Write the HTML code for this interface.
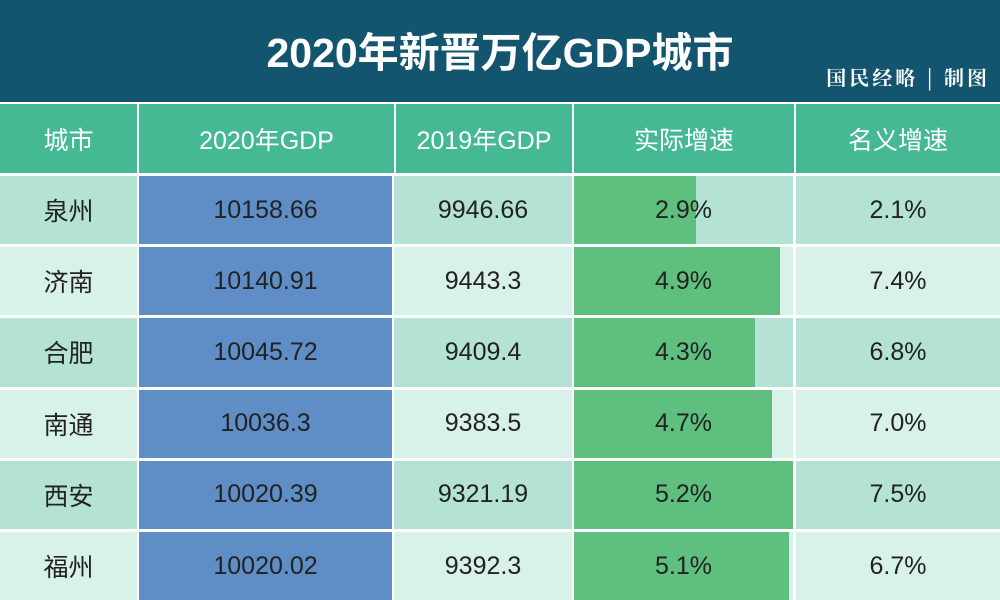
<!DOCTYPE html>
<html><head><meta charset="utf-8"><style>
body{margin:0;width:1000px;height:599px;overflow:hidden;background:#fff;font-family:"Liberation Sans","Noto Sans CJK SC",sans-serif}
#title{position:absolute;left:0;top:0;width:1000px;height:102px;background:#13546e}
#title h1{position:absolute;left:0;width:1000px;top:28px;margin:0;text-align:center;color:#fff;font-size:41px;font-weight:bold;line-height:50px}
#credit{position:absolute;right:10px;top:62px;color:#fff;font-family:"Noto Serif CJK SC",serif;font-size:20px;font-weight:bold;letter-spacing:3px}
.cell{position:absolute;display:flex;align-items:center;justify-content:center;font-size:25px;color:#222}
.hd{color:#fff;background:#45b994}
</style></head><body>
<div id="title"><h1>2020年新晋万亿GDP城市</h1><div id="credit">国民经略 | 制图</div></div>
<div id="tbl"></div>
<script>
const cities=["泉州","济南","合肥","南通","西安","福州"];
const gdp2020=["10158.66","10140.91","10045.72","10036.3","10020.39","10020.02"];
const gdp2019=["9946.66","9443.3","9409.4","9383.5","9321.19","9392.3"];
const realGrowth=[2.9,4.9,4.3,4.7,5.2,5.1];
const nominalGrowth=["2.1%","7.4%","6.8%","7.0%","7.5%","6.7%"];
const headers=["城市","2020年GDP","2019年GDP","实际增速","名义增速"];
const colX=[0,137,394,572,794,1000];
const tbl=document.getElementById('tbl');
function mk(x,y,w,h,txt,bg,cls){const d=document.createElement('div');d.className='cell '+(cls||'');d.style.cssText=`left:${x}px;top:${y}px;width:${w}px;height:${h}px;`+(bg?`background:${bg};`:'');d.textContent=txt;tbl.appendChild(d);return d;}
headers.forEach((h,i)=>{const d=mk(colX[i]+(i?2:0),104,colX[i+1]-colX[i]-(i?2:0),69,h,null,'hd');

});
const rowH=71.2;
cities.forEach((c,r)=>{
 const y=176+r*rowH,h=rowH-3;
 const bg=r%2?'#d8f1e9':'#b4e2d4';
 let d=mk(0,y,137,h,c,bg);
 
 
 d=mk(139,y,253,h,gdp2020[r],'#5f8dc6');
 
 
 d=mk(394,y,178,h,gdp2019[r],bg);
 
 
 const bgc=mk(574,y,219,h,'',bg);
 
 
 const bar=mk(574,y,realGrowth[r]/5.2*219,h,'','#5fbf7f');
 
 
 d=mk(574,y,219,h,realGrowth[r].toFixed(1)+'%',null);
 
 
 d=mk(796,y,204,h,nominalGrowth[r],bg);
 
 
});
</script>
</body></html>
